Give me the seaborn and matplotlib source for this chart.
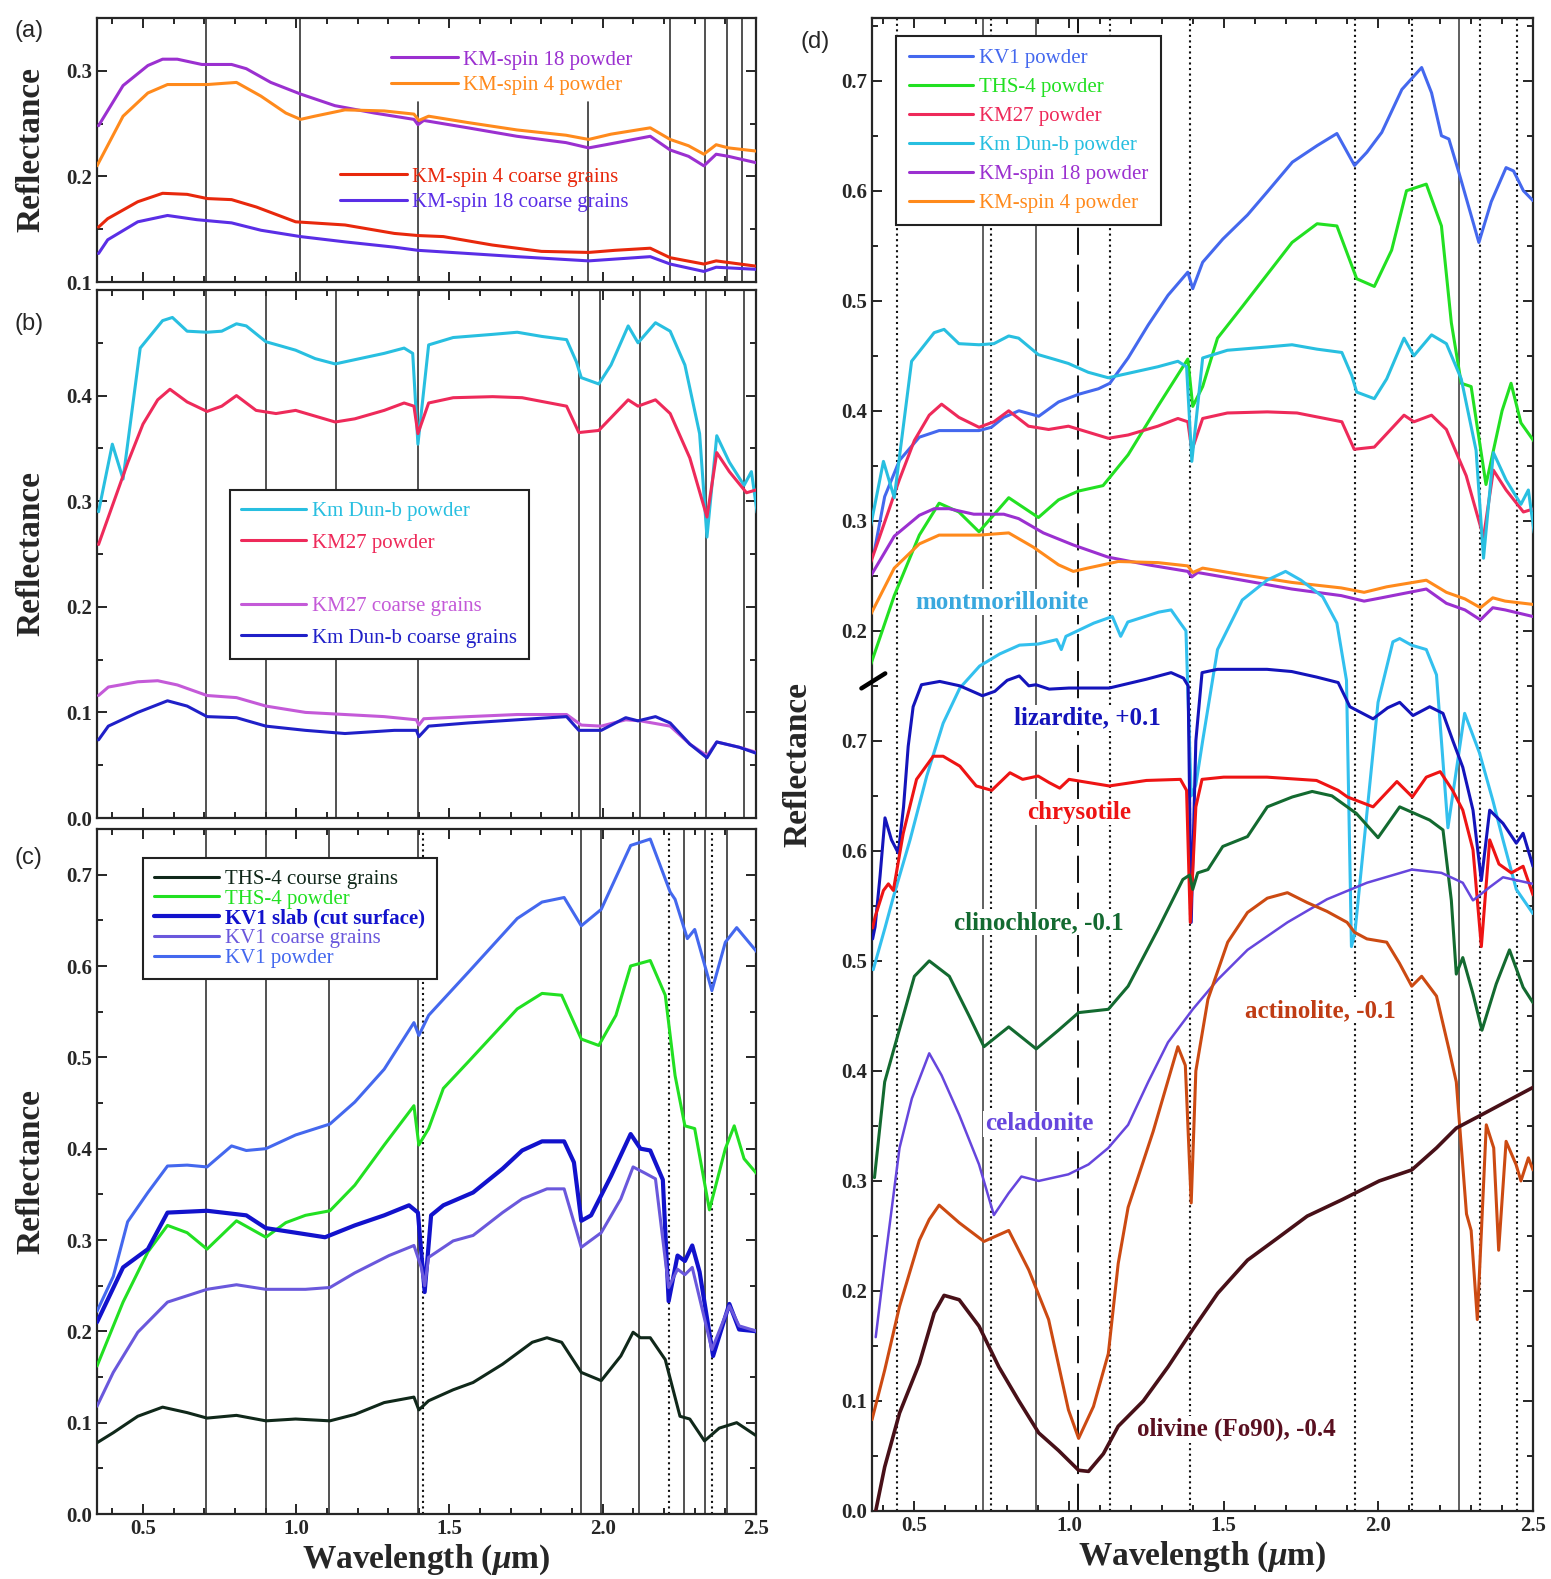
import numpy as np
import matplotlib
matplotlib.use("Agg")
import matplotlib.pyplot as plt
from matplotlib.lines import Line2D
from matplotlib.ticker import MultipleLocator, FixedLocator
import seaborn as sns

sns.set_style("ticks")
plt.rcParams['font.family'] = ['Liberation Serif', 'DejaVu Serif']
plt.rcParams['mathtext.fontset'] = 'custom'
plt.rcParams['mathtext.rm'] = 'Liberation Serif:bold'
plt.rcParams['mathtext.it'] = 'Liberation Serif:italic:bold'
plt.rcParams['axes.linewidth'] = 1.6
plt.rcParams['lines.solid_joinstyle'] = 'round'
plt.rcParams['lines.solid_capstyle'] = 'round'

# ---------------- panel (a): KM-spin samples ----------------
wl_spin18_pow = [0.355, 0.435, 0.516, 0.564, 0.612, 0.692, 0.789, 0.837, 0.917, 1.014, 1.126, 1.255, 1.384, 1.397,
                 1.416, 1.56, 1.72, 1.88, 1.954, 2.01, 2.155, 2.22, 2.28, 2.33, 2.37, 2.41, 2.50]
r_spin18_pow = [0.248, 0.286, 0.305, 0.311, 0.311, 0.306, 0.306, 0.302, 0.289, 0.278, 0.267, 0.260, 0.254, 0.249,
                0.253, 0.246, 0.238, 0.232, 0.227, 0.230, 0.238, 0.225, 0.219, 0.210, 0.221, 0.219, 0.213]

wl_spin4_pow = [0.35, 0.435, 0.516, 0.58, 0.71, 0.805, 0.885, 0.966, 1.014, 1.06, 1.159, 1.287, 1.384, 1.40,
                1.432, 1.56, 1.72, 1.88, 1.954, 2.027, 2.155, 2.22, 2.28, 2.33, 2.37, 2.41, 2.50]
r_spin4_pow = [0.210, 0.257, 0.279, 0.287, 0.287, 0.289, 0.276, 0.260, 0.254, 0.257, 0.263, 0.262, 0.259, 0.253,
               0.257, 0.251, 0.244, 0.239, 0.235, 0.240, 0.246, 0.235, 0.229, 0.221, 0.230, 0.227, 0.224]

wl_spin4_cg = [0.355, 0.385, 0.483, 0.564, 0.644, 0.71, 0.789, 0.87, 0.998, 1.159, 1.32, 1.397, 1.48, 1.64, 1.80,
               1.954, 2.04, 2.155, 2.22, 2.33, 2.37, 2.50]
r_spin4_cg = [0.152, 0.160, 0.176, 0.184, 0.183, 0.179, 0.178, 0.171, 0.157, 0.154, 0.146, 0.144, 0.143, 0.135,
              0.129, 0.128, 0.130, 0.132, 0.123, 0.117, 0.120, 0.115]

wl_spin18_cg = [0.355, 0.385, 0.483, 0.58, 0.676, 0.789, 0.885, 1.014, 1.159, 1.32, 1.397, 1.56, 1.72, 1.954, 2.155,
                2.22, 2.33, 2.37, 2.50]
r_spin18_cg = [0.127, 0.140, 0.157, 0.163, 0.159, 0.156, 0.149, 0.143, 0.138, 0.133, 0.130, 0.127, 0.124, 0.120,
               0.124, 0.117, 0.110, 0.114, 0.112]

# ---------------- panel (b): KM27 and Km Dun-b ----------------
wl_dunb_pow = [0.355, 0.40, 0.435, 0.491, 0.564, 0.596, 0.644, 0.709, 0.757, 0.805, 0.837, 0.901, 0.95, 0.998, 1.062,
               1.127, 1.191, 1.287, 1.352, 1.38, 1.397, 1.432, 1.512, 1.641, 1.721, 1.802, 1.882, 1.914, 1.93, 1.987,
               2.027, 2.083, 2.115, 2.172, 2.22, 2.268, 2.316, 2.34, 2.372, 2.413, 2.461, 2.485, 2.504]
r_dunb_pow = [0.290, 0.354, 0.321, 0.445, 0.471, 0.474, 0.461, 0.460, 0.461, 0.468, 0.466, 0.451, 0.447, 0.443, 0.435,
              0.430, 0.434, 0.440, 0.445, 0.440, 0.354, 0.448, 0.455, 0.458, 0.460, 0.456, 0.453, 0.432, 0.417, 0.411,
              0.429, 0.466, 0.450, 0.469, 0.461, 0.429, 0.364, 0.266, 0.362, 0.337, 0.315, 0.328, 0.289]

wl_km27_pow = [0.355, 0.403, 0.451, 0.50, 0.548, 0.588, 0.644, 0.709, 0.757, 0.805, 0.869, 0.934, 0.998, 1.127, 1.191,
               1.287, 1.352, 1.384, 1.397, 1.432, 1.512, 1.641, 1.737, 1.882, 1.922, 1.987, 2.083, 2.115, 2.172, 2.22,
               2.284, 2.34, 2.372, 2.413, 2.469, 2.504]
r_km27_pow = [0.259, 0.298, 0.337, 0.373, 0.396, 0.406, 0.394, 0.385, 0.390, 0.400, 0.386, 0.383, 0.386, 0.375, 0.378,
              0.386, 0.393, 0.390, 0.364, 0.393, 0.398, 0.399, 0.398, 0.390, 0.365, 0.367, 0.396, 0.390, 0.396, 0.383,
              0.341, 0.285, 0.346, 0.328, 0.308, 0.311]

wl_km27_cg = [0.355, 0.387, 0.483, 0.548, 0.612, 0.709, 0.805, 0.901, 1.03, 1.159, 1.287, 1.392, 1.40, 1.416, 1.561,
              1.721, 1.882, 1.93, 1.995, 2.075, 2.123, 2.22, 2.284, 2.34, 2.372, 2.445, 2.504]
r_km27_cg = [0.116, 0.124, 0.129, 0.130, 0.126, 0.116, 0.114, 0.106, 0.100, 0.098, 0.096, 0.093, 0.088, 0.094, 0.096,
             0.098, 0.098, 0.088, 0.087, 0.093, 0.092, 0.087, 0.070, 0.059, 0.072, 0.067, 0.062]

wl_dunb_cg = [0.355, 0.387, 0.483, 0.58, 0.644, 0.709, 0.805, 0.901, 1.03, 1.159, 1.32, 1.392, 1.40, 1.432, 1.561,
              1.721, 1.882, 1.922, 1.995, 2.075, 2.115, 2.172, 2.22, 2.284, 2.34, 2.372, 2.445, 2.504]
r_dunb_cg = [0.074, 0.087, 0.100, 0.111, 0.106, 0.096, 0.095, 0.087, 0.083, 0.080, 0.083, 0.083, 0.077, 0.087, 0.090,
             0.093, 0.096, 0.083, 0.083, 0.095, 0.092, 0.096, 0.090, 0.070, 0.057, 0.072, 0.067, 0.061]

# ---------------- panel (c): THS-4 and KV1 ----------------
wl_kv1_pow = [0.35, 0.403, 0.45, 0.516, 0.58, 0.644, 0.709, 0.789, 0.837, 0.901, 0.998, 1.11, 1.191, 1.287, 1.384,
              1.40, 1.432, 1.561, 1.721, 1.802, 1.874, 1.93, 1.995, 2.091, 2.155, 2.22, 2.236, 2.276, 2.30, 2.356,
              2.40, 2.437, 2.504]
r_kv1_pow = [0.222, 0.260, 0.320, 0.352, 0.381, 0.382, 0.380, 0.403, 0.398, 0.400, 0.415, 0.427, 0.451, 0.487, 0.538,
             0.524, 0.546, 0.593, 0.652, 0.670, 0.675, 0.644, 0.662, 0.732, 0.739, 0.681, 0.673, 0.630, 0.640, 0.573,
             0.626, 0.642, 0.615]

wl_kv1_slab = [0.35, 0.435, 0.516, 0.58, 0.709, 0.837, 0.901, 0.998, 1.094, 1.191, 1.287, 1.368, 1.397, 1.419, 1.44,
               1.48, 1.577, 1.673, 1.737, 1.802, 1.874, 1.906, 1.93, 1.962, 2.027, 2.091, 2.123, 2.155, 2.196, 2.215,
               2.244, 2.268, 2.292, 2.316, 2.36, 2.413, 2.445, 2.504]
r_kv1_slab = [0.210, 0.270, 0.290, 0.330, 0.332, 0.327, 0.313, 0.308, 0.303, 0.316, 0.327, 0.338, 0.330, 0.243, 0.327,
              0.338, 0.352, 0.378, 0.398, 0.408, 0.408, 0.385, 0.321, 0.327, 0.370, 0.416, 0.400, 0.398, 0.366, 0.233,
              0.283, 0.277, 0.294, 0.265, 0.173, 0.230, 0.202, 0.200]

wl_kv1_cg = [0.35, 0.403, 0.483, 0.58, 0.709, 0.805, 0.901, 1.03, 1.11, 1.191, 1.303, 1.384, 1.408, 1.419, 1.432,
             1.512, 1.577, 1.673, 1.737, 1.818, 1.874, 1.93, 1.995, 2.059, 2.099, 2.139, 2.172, 2.215, 2.244, 2.268,
             2.292, 2.356, 2.413, 2.445, 2.504]
r_kv1_cg = [0.118, 0.155, 0.199, 0.232, 0.246, 0.251, 0.246, 0.246, 0.248, 0.264, 0.283, 0.294, 0.270, 0.250, 0.281,
            0.299, 0.305, 0.330, 0.345, 0.356, 0.356, 0.292, 0.308, 0.345, 0.380, 0.373, 0.367, 0.248, 0.268, 0.262,
            0.270, 0.180, 0.228, 0.206, 0.200]

wl_ths4_pow = [0.35, 0.435, 0.516, 0.58, 0.644, 0.709, 0.805, 0.901, 0.966, 1.03, 1.11, 1.191, 1.287, 1.384, 1.40,
               1.432, 1.48, 1.561, 1.641, 1.721, 1.802, 1.866, 1.93, 1.987, 2.043, 2.091, 2.155, 2.204, 2.236, 2.268,
               2.30, 2.348, 2.40, 2.429, 2.461, 2.504]
r_ths4_pow = [0.162, 0.232, 0.287, 0.316, 0.308, 0.290, 0.321, 0.303, 0.319, 0.327, 0.332, 0.360, 0.404, 0.447, 0.404,
              0.422, 0.466, 0.495, 0.524, 0.553, 0.570, 0.568, 0.520, 0.513, 0.546, 0.600, 0.606, 0.568, 0.480, 0.425,
              0.422, 0.333, 0.400, 0.425, 0.389, 0.372]

wl_ths4_cg = [0.35, 0.403, 0.483, 0.564, 0.644, 0.709, 0.805, 0.901, 0.998, 1.11, 1.191, 1.287, 1.384, 1.40, 1.432,
              1.512, 1.577, 1.673, 1.77, 1.818, 1.866, 1.93, 1.995, 2.059, 2.099, 2.123, 2.155, 2.204, 2.252, 2.284,
              2.332, 2.38, 2.437, 2.504]
r_ths4_cg = [0.078, 0.089, 0.107, 0.117, 0.111, 0.105, 0.108, 0.102, 0.104, 0.102, 0.109, 0.122, 0.128, 0.114, 0.124,
             0.136, 0.144, 0.164, 0.188, 0.193, 0.188, 0.155, 0.146, 0.173, 0.199, 0.193, 0.193, 0.169, 0.107, 0.104,
             0.080, 0.094, 0.100, 0.085]

# ---------------- panel (d) ----------------
# KV1 powder as drawn in (d) (upper frame, label values)
wl_kv1_pow_d = [0.371, 0.404, 0.452, 0.516, 0.58, 0.709, 0.749, 0.789, 0.838, 0.902, 0.966, 1.031, 1.095, 1.132, 1.191,
                1.256, 1.32, 1.384, 1.40, 1.432, 1.497, 1.577, 1.641, 1.722, 1.802, 1.866, 1.923, 1.963, 2.011, 2.076,
                2.14, 2.172, 2.204, 2.228, 2.26, 2.325, 2.365, 2.413, 2.437, 2.469, 2.50]
r_kv1_pow_d = [0.273, 0.322, 0.355, 0.376, 0.382, 0.382, 0.385, 0.394, 0.400, 0.395, 0.408, 0.415, 0.420, 0.425, 0.448,
               0.478, 0.505, 0.526, 0.511, 0.535, 0.556, 0.578, 0.599, 0.626, 0.641, 0.652, 0.623, 0.635, 0.653, 0.692,
               0.712, 0.689, 0.650, 0.647, 0.617, 0.553, 0.590, 0.621, 0.618, 0.600, 0.591]

# lower frame spectra (values as on the lower scale)
wl_mont = [0.367, 0.405, 0.432, 0.486, 0.54, 0.593, 0.647, 0.711, 0.776, 0.84, 0.90, 0.96, 0.975, 0.99, 1.08, 1.14,
           1.167, 1.19, 1.29, 1.33, 1.36, 1.378, 1.395, 1.41, 1.432, 1.48, 1.56, 1.64, 1.70, 1.75, 1.82, 1.866,
           1.897, 1.913, 1.924, 1.999, 2.047, 2.069, 2.107, 2.155, 2.188, 2.225, 2.279, 2.327, 2.37, 2.403, 2.446,
           2.50]
r_mont = [0.492, 0.530, 0.558, 0.610, 0.668, 0.716, 0.748, 0.768, 0.779, 0.787, 0.788, 0.792, 0.783, 0.795, 0.807,
          0.813, 0.795, 0.808, 0.817, 0.819, 0.807, 0.800, 0.650, 0.660, 0.700, 0.783, 0.828, 0.846, 0.854, 0.846,
          0.831, 0.807, 0.755, 0.513, 0.525, 0.735, 0.790, 0.793, 0.787, 0.783, 0.760, 0.621, 0.725, 0.689, 0.646,
          0.610, 0.565, 0.543]

wl_liz = [0.365, 0.373, 0.389, 0.405, 0.426, 0.448, 0.465, 0.48, 0.496, 0.523, 0.582, 0.647, 0.72, 0.76, 0.80, 0.839,
          0.87, 0.893, 0.936, 1.0, 1.13, 1.25, 1.33, 1.37, 1.385, 1.395, 1.41, 1.43, 1.48, 1.64, 1.72, 1.80, 1.87,
          1.908, 1.983, 2.03, 2.069, 2.112, 2.166, 2.209, 2.241, 2.273, 2.306, 2.333, 2.36, 2.403, 2.446, 2.468, 2.50]
r_liz = [0.520, 0.531, 0.577, 0.630, 0.610, 0.598, 0.640, 0.695, 0.731, 0.751, 0.754, 0.750, 0.741, 0.745, 0.755,
         0.759, 0.750, 0.751, 0.747, 0.748, 0.748, 0.756, 0.762, 0.757, 0.750, 0.535, 0.700, 0.762, 0.765, 0.765,
         0.763, 0.758, 0.753, 0.731, 0.720, 0.730, 0.735, 0.723, 0.731, 0.725, 0.700, 0.676, 0.637, 0.573, 0.637,
         0.625, 0.607, 0.616, 0.586]

wl_chrys = [0.365, 0.373, 0.40, 0.416, 0.432, 0.464, 0.507, 0.561, 0.593, 0.647, 0.70, 0.75, 0.809, 0.85, 0.90, 0.936,
            0.97, 1.0, 1.13, 1.25, 1.36, 1.38, 1.392, 1.41, 1.43, 1.50, 1.64, 1.80, 1.87, 1.90, 1.983, 2.06, 2.11,
            2.155, 2.20, 2.24, 2.273, 2.306, 2.333, 2.36, 2.39, 2.43, 2.468, 2.50]
r_chrys = [0.530, 0.540, 0.564, 0.570, 0.564, 0.616, 0.665, 0.686, 0.686, 0.677, 0.659, 0.655, 0.671, 0.665, 0.668,
           0.662, 0.657, 0.665, 0.659, 0.664, 0.665, 0.655, 0.535, 0.640, 0.665, 0.667, 0.667, 0.664, 0.655, 0.649,
           0.640, 0.663, 0.649, 0.667, 0.672, 0.655, 0.637, 0.601, 0.513, 0.610, 0.588, 0.580, 0.586, 0.560]

wl_clino = [0.371, 0.404, 0.452, 0.50, 0.548, 0.613, 0.677, 0.725, 0.805, 0.894, 0.966, 1.031, 1.127, 1.191, 1.288,
            1.368, 1.39, 1.40, 1.416, 1.449, 1.497, 1.577, 1.641, 1.722, 1.786, 1.85, 1.929, 1.999, 2.069, 2.166,
            2.209, 2.236, 2.252, 2.273, 2.306, 2.335, 2.381, 2.424, 2.468, 2.50]
r_clino = [0.303, 0.390, 0.438, 0.486, 0.500, 0.486, 0.450, 0.422, 0.440, 0.420, 0.437, 0.453, 0.456, 0.477, 0.529,
           0.574, 0.578, 0.565, 0.580, 0.583, 0.604, 0.613, 0.640, 0.649, 0.654, 0.650, 0.634, 0.612, 0.640, 0.628,
           0.619, 0.555, 0.488, 0.503, 0.470, 0.437, 0.479, 0.510, 0.476, 0.462]

wl_cela = [0.375, 0.404, 0.452, 0.492, 0.548, 0.588, 0.645, 0.709, 0.757, 0.805, 0.846, 0.902, 0.998, 1.063, 1.127,
           1.191, 1.256, 1.32, 1.40, 1.481, 1.577, 1.706, 1.834, 1.963, 2.108, 2.204, 2.273, 2.306, 2.333, 2.36,
           2.403, 2.468, 2.50]
r_cela = [0.158, 0.225, 0.330, 0.375, 0.416, 0.396, 0.360, 0.315, 0.269, 0.289, 0.304, 0.300, 0.306, 0.315, 0.330,
          0.351, 0.390, 0.426, 0.456, 0.483, 0.510, 0.535, 0.556, 0.571, 0.583, 0.580, 0.571, 0.555, 0.561, 0.567,
          0.576, 0.572, 0.570]

wl_actin = [0.363, 0.404, 0.452, 0.516, 0.548, 0.58, 0.645, 0.725, 0.805, 0.87, 0.934, 0.998, 1.031, 1.079, 1.127,
            1.159, 1.191, 1.272, 1.352, 1.376, 1.395, 1.41, 1.449, 1.513, 1.577, 1.641, 1.706, 1.77, 1.834, 1.899,
            1.923, 1.963, 2.027, 2.068, 2.108, 2.14, 2.188, 2.228, 2.252, 2.285, 2.30, 2.32, 2.349, 2.373, 2.389,
            2.413, 2.445, 2.461, 2.485, 2.50]
r_actin = [0.083, 0.128, 0.186, 0.246, 0.265, 0.278, 0.262, 0.245, 0.255, 0.219, 0.174, 0.092, 0.066, 0.095, 0.143,
           0.225, 0.276, 0.345, 0.422, 0.405, 0.280, 0.400, 0.465, 0.517, 0.544, 0.557, 0.562, 0.553, 0.545, 0.535,
           0.526, 0.520, 0.517, 0.498, 0.477, 0.486, 0.468, 0.420, 0.390, 0.270, 0.255, 0.174, 0.351, 0.330, 0.237,
           0.336, 0.315, 0.300, 0.321, 0.310]

wl_oliv = [0.375, 0.404, 0.452, 0.516, 0.564, 0.596, 0.645, 0.709, 0.773, 0.838, 0.902, 0.966, 1.031, 1.063, 1.111,
           1.159, 1.24, 1.32, 1.40, 1.481, 1.577, 1.674, 1.77, 1.883, 2.003, 2.108, 2.188, 2.252, 2.333, 2.413, 2.50]
r_oliv = [0.000, 0.040, 0.089, 0.134, 0.180, 0.196, 0.192, 0.168, 0.131, 0.100, 0.071, 0.055, 0.037, 0.036, 0.052,
          0.077, 0.100, 0.131, 0.165, 0.198, 0.228, 0.248, 0.268, 0.283, 0.300, 0.310, 0.330, 0.348, 0.360, 0.372,
          0.385]

UPPER_SHIFT = 0.6  # upper frame of (d) is drawn 0.6 above its tick labels

# reference lines
vl_a = [0.705, 1.011, 2.22, 2.332, 2.405, 2.453]
vl_a_short = [1.397, 1.951]
vl_b = [0.705, 0.901, 1.131, 1.397, 1.922, 1.991, 2.123, 2.337, 2.461]
vl_c = [0.705, 0.901, 1.107, 1.397, 1.93, 1.995, 2.117, 2.265, 2.332, 2.405]
vl_c_dot = [1.413, 2.215, 2.356]
vl_d = [0.722, 0.894, 2.26]
vl_d_dot = [0.444, 0.749, 1.132, 1.392, 1.925, 2.11, 2.33, 2.447]
vl_d_dash = [1.03]

C = {
    'spin18_pow': '#9b30d0', 'spin4_pow': '#ff8a1c', 'spin4_cg': '#e8280c', 'spin18_cg': '#5a2ee6',
    'dunb_pow': '#28bfe0', 'km27_pow': '#ee2a5a', 'km27_cg': '#c45ad8', 'dunb_cg': '#2020c8',
    'ths4_cg': '#10281a', 'ths4_pow': '#22e022', 'kv1_slab': '#1212cc', 'kv1_cg': '#6a58dc', 'kv1_pow': '#4468ee',
    'mont': '#33c0ee', 'liz': '#1414bb', 'chrys': '#ee1414', 'clino': '#136a30', 'cela': '#6646dd',
    'actin': '#cc4a12', 'oliv': '#481018',
}

W, H = 1551, 1579
fig = plt.figure(figsize=(W / 100, H / 100), dpi=100)


def px_axes(x0, y0, x1, y1):
    return fig.add_axes([x0 / W, 1 - y1 / H, (x1 - x0) / W, (y1 - y0) / H])


def curve(ax, wl, r, key, lw=2.2, label=None, shift=0.0):
    sns.lineplot(x=np.array(wl), y=np.array(r) + shift, ax=ax, color=C[key], lw=lw,
                 sort=False, estimator=None, zorder=3)
    line = ax.lines[-1]
    if label:
        line.set_label(label)
    return line


def style_axes(ax, xlab=True, ylabpad=14):
    ax.tick_params(which='both', direction='in', top=True, right=True, width=1.4)
    ax.tick_params(which='major', length=7, labelsize=15)
    ax.tick_params(which='minor', length=4)
    ax.xaxis.set_major_locator(FixedLocator([0.5, 1.0, 1.5, 2.0, 2.5]))
    ax.xaxis.set_minor_locator(MultipleLocator(0.1))
    for t in ax.get_xticklabels() + ax.get_yticklabels():
        t.set_fontweight('bold')
    if xlab:
        ax.set_xticks([0.5, 1.0, 1.5, 2.0, 2.5], ['0.5', '1.0', '1.5', '2.0', '2.5'], fontweight='bold')
        ax.set_xlabel(r'Wavelength ($\mu$m)', fontsize=24, fontweight='bold', labelpad=3)
    else:
        ax.set_xticklabels([])
    ax.set_ylabel('Reflectance', fontsize=24, fontweight='bold', labelpad=ylabpad)


def vlines(ax, xs, ls='-', color='#333333', lw=1.2, ymax=1.0):
    for x in xs:
        ax.axvline(x, ymax=ymax, color=color, ls=ls, lw=lw, zorder=1)


def yticks(ax, vals):
    ax.set_yticks(vals, [f'{v:.1f}' for v in vals], fontweight='bold')
    ax.yaxis.set_minor_locator(MultipleLocator(0.05))


# ---------------- (a) ----------------
ax_a = px_axes(97, 18, 756, 282)
vlines(ax_a, vl_a)
vlines(ax_a, vl_a_short, ymax=(0.27 - 0.1) / 0.25)
h18p = curve(ax_a, wl_spin18_pow, r_spin18_pow, 'spin18_pow', label='KM-spin 18 powder')
h4p = curve(ax_a, wl_spin4_pow, r_spin4_pow, 'spin4_pow', label='KM-spin 4 powder')
h4c = curve(ax_a, wl_spin4_cg, r_spin4_cg, 'spin4_cg', label='KM-spin 4 coarse grains')
h18c = curve(ax_a, wl_spin18_cg, r_spin18_cg, 'spin18_cg', label='KM-spin 18 coarse grains')
ax_a.set_xlim(0.35, 2.5)
ax_a.set_ylim(0.1, 0.35)
yticks(ax_a, [0.1, 0.2, 0.3])
style_axes(ax_a, xlab=False)

leg_kw = dict(frameon=False, labelcolor='linecolor', fontsize=15, handlelength=3.2, handletextpad=0.25,
              borderpad=0.0, borderaxespad=0.0, bbox_transform=fig.transFigure, loc='upper left')
leg1 = ax_a.legend([h18p, h4p], ['KM-spin 18 powder', 'KM-spin 4 powder'], labelspacing=0.3,
                   bbox_to_anchor=(391 / W, 1 - 50 / H), **leg_kw)
ax_a.add_artist(leg1)
ax_a.legend([h4c, h18c], ['KM-spin 4 coarse grains', 'KM-spin 18 coarse grains'], labelspacing=0.3,
            bbox_to_anchor=(340 / W, 1 - 167 / H), **leg_kw)

# ---------------- (b) ----------------
ax_b = px_axes(97, 290, 756, 818)
vlines(ax_b, vl_b)
hdp = curve(ax_b, wl_dunb_pow, r_dunb_pow, 'dunb_pow')
hkp = curve(ax_b, wl_km27_pow, r_km27_pow, 'km27_pow')
hkc = curve(ax_b, wl_km27_cg, r_km27_cg, 'km27_cg')
hdc = curve(ax_b, wl_dunb_cg, r_dunb_cg, 'dunb_cg')
ax_b.set_xlim(0.35, 2.5)
ax_b.set_ylim(0.0, 0.5)
yticks(ax_b, [0.0, 0.1, 0.2, 0.3, 0.4])
style_axes(ax_b, xlab=False)
blank = Line2D([], [], color='none')
frame_kw = dict(fontsize=15, labelcolor='linecolor', handlelength=3.1, handletextpad=0.3, fancybox=False,
                framealpha=1, edgecolor='#222222', borderaxespad=0.0, bbox_transform=fig.transFigure,
                loc='upper left')
leg_b = ax_b.legend([hdp, hkp, blank, hkc, hdc],
                    ['Km Dun-b powder', 'KM27 powder', ' ', 'KM27 coarse grains', 'Km Dun-b coarse grains'],
                    labelspacing=0.58, borderpad=0.55, bbox_to_anchor=(230 / W, 1 - 490 / H), **frame_kw)
leg_b.get_frame().set_linewidth(1.5)

# ---------------- (c) ----------------
ax_c = px_axes(97, 829, 756, 1514)
vlines(ax_c, vl_c)
vlines(ax_c, vl_c_dot, ls=':', color='#111111', lw=1.5)
htc = curve(ax_c, wl_ths4_cg, r_ths4_cg, 'ths4_cg')
htp = curve(ax_c, wl_ths4_pow, r_ths4_pow, 'ths4_pow')
hks = curve(ax_c, wl_kv1_slab, r_kv1_slab, 'kv1_slab', lw=3.0)
hkg = curve(ax_c, wl_kv1_cg, r_kv1_cg, 'kv1_cg')
hkw = curve(ax_c, wl_kv1_pow, r_kv1_pow, 'kv1_pow')
ax_c.set_xlim(0.35, 2.5)
ax_c.set_ylim(0.0, 0.75)
yticks(ax_c, [0.0, 0.1, 0.2, 0.3, 0.4, 0.5, 0.6, 0.7])
style_axes(ax_c, xlab=True)
leg_c = ax_c.legend([htc, htp, hks, hkg, hkw],
                    ['THS-4 course grains', 'THS-4 powder', 'KV1 slab (cut surface)', 'KV1 coarse grains',
                     'KV1 powder'],
                    labelspacing=0.0, borderpad=0.55, bbox_to_anchor=(143 / W, 1 - 858 / H), **frame_kw)
leg_c.get_frame().set_linewidth(1.5)
leg_c.get_texts()[2].set_fontweight('bold')

# ---------------- (d) ----------------
ax_d = px_axes(872, 18, 1533, 1511)
vlines(ax_d, vl_d, color='#444444')
vlines(ax_d, vl_d_dot, ls=':', color='#111111', lw=1.5)
for x in vl_d_dash:
    ax_d.axvline(x, color='#111111', ls=(0, (14, 5)), lw=1.4, zorder=1)

d_kv1 = curve(ax_d, wl_kv1_pow_d, r_kv1_pow_d, 'kv1_pow', shift=UPPER_SHIFT)
d_ths = curve(ax_d, wl_ths4_pow, r_ths4_pow, 'ths4_pow', shift=UPPER_SHIFT)
d_km27 = curve(ax_d, wl_km27_pow, r_km27_pow, 'km27_pow', shift=UPPER_SHIFT)
d_dunb = curve(ax_d, wl_dunb_pow, r_dunb_pow, 'dunb_pow', shift=UPPER_SHIFT)
d_s18 = curve(ax_d, wl_spin18_pow, r_spin18_pow, 'spin18_pow', shift=UPPER_SHIFT)
d_s4 = curve(ax_d, wl_spin4_pow, r_spin4_pow, 'spin4_pow', shift=UPPER_SHIFT)

curve(ax_d, wl_mont, r_mont, 'mont')
curve(ax_d, wl_liz, r_liz, 'liz')
curve(ax_d, wl_chrys, r_chrys, 'chrys')
curve(ax_d, wl_clino, r_clino, 'clino')
curve(ax_d, wl_cela, r_cela, 'cela', lw=1.8)
curve(ax_d, wl_actin, r_actin, 'actin')
curve(ax_d, wl_oliv, r_oliv, 'oliv', lw=2.6)

ax_d.set_xlim(0.363, 2.5)
ax_d.set_ylim(0.0, 1.357)
lower_t = [0.0, 0.1, 0.2, 0.3, 0.4, 0.5, 0.6, 0.7]
upper_t = [0.2, 0.3, 0.4, 0.5, 0.6, 0.7]
ax_d.set_yticks(lower_t + [v + UPPER_SHIFT for v in upper_t],
                [f'{v:.1f}' for v in lower_t] + [f'{v:.1f}' for v in upper_t], fontweight='bold')
ax_d.yaxis.set_minor_locator(MultipleLocator(0.05))
style_axes(ax_d, xlab=True, ylabpad=20)
ax_d.plot([-0.016, 0.02], [0.551, 0.561], transform=ax_d.transAxes, color='black', lw=3.2,
          clip_on=False, zorder=6)

notes = [
    ('montmorillonite', 0.783, 0.826, '#3aa8de'),
    ('lizardite, +0.1', 1.058, 0.721, '#1414bb'),
    ('chrysotile', 1.032, 0.635, '#ee1414'),
    ('clinochlore, -0.1', 0.903, 0.535, '#136a30'),
    ('actinolite, -0.1', 1.811, 0.455, '#c03c14'),
    ('celadonite', 0.903, 0.352, '#6646dd'),
    ('olivine (Fo90), -0.4', 1.542, 0.074, '#5a1020'),
]
for txt, x, y, col in notes:
    ax_d.text(x, y, txt, color=col, fontsize=18, fontweight='bold', ha='center', va='center', zorder=2,
              bbox=dict(facecolor='white', edgecolor='none', pad=1))

leg_d = ax_d.legend([d_kv1, d_ths, d_km27, d_dunb, d_s18, d_s4],
                    ['KV1 powder', 'THS-4 powder', 'KM27 powder', 'Km Dun-b powder', 'KM-spin 18 powder',
                     'KM-spin 4 powder'],
                    labelspacing=0.45, borderpad=0.6, bbox_to_anchor=(896 / W, 1 - 36 / H), **frame_kw)
leg_d.get_frame().set_linewidth(1.5)

for lab, x, y in [('(a)', 14, 31), ('(b)', 14, 324), ('(c)', 14, 858), ('(d)', 800, 42)]:
    fig.text(x / W, 1 - y / H, lab, fontsize=17, family='Liberation Sans', va='center', ha='left')

fig.savefig('out.png', dpi=100)
